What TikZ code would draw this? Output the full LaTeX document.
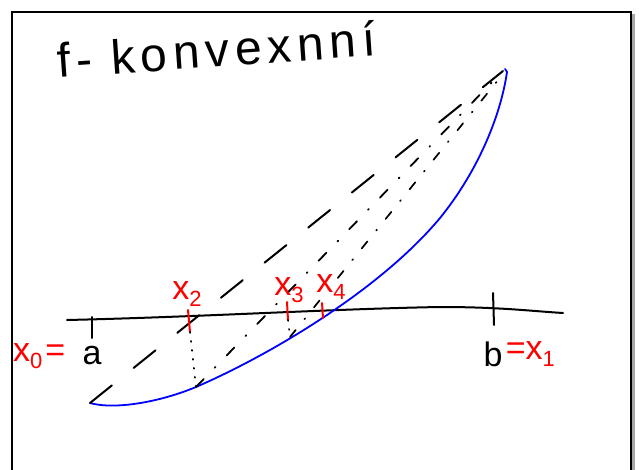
\documentclass[tikz,border=0pt]{standalone}
\usepackage{fontspec}
\setmainfont{Liberation Sans}
\newfontfamily\handfont[LetterSpace=12]{Liberation Sans}
\usetikzlibrary{positioning}
\newcommand{\hsub}[1]{\raisebox{-7pt}{\fontsize{22}{22}\selectfont #1}}

\begin{document}
\begin{tikzpicture}[
    x=1pt, y=-1pt,
    pen/.style={line width=2pt, line cap=round, line join=round},
    fcurve/.style={pen, draw=blue, line width=1.8pt},
    chordlong/.style={pen, dash pattern=on 28pt off 28pt},
    chorddot/.style={pen, line width=1.8pt, dash pattern=on 11pt off 16pt on 1pt off 16pt},
    chordfine/.style={pen, line width=1.7pt, dash pattern=on 9pt off 14pt on 1pt off 14pt},
    vdots/.style={pen, line width=1.6pt, dash pattern=on 1pt off 8pt},
    redtick/.style={pen, draw=red},
    lbl/.style={font=\fontsize{34}{34}\selectfont, inner sep=0pt},
    redlbl/.style={lbl, text=red}
]
    \useasboundingbox (0,0) rectangle (639,470);

    % Frame with shadow
    \fill[gray!70] (632,14) rectangle (635,470);
    \draw[line width=2.2pt] (12,470) -- (12,12) -- (631,12) -- (631,470);

    % Title
    \node[anchor=base west, rotate=4, inner sep=0pt, font=\handfont\fontsize{48}{48}\selectfont] (title) at (58,78) {f- konvexnní};

    % Axis and ticks
    \coordinate (axl) at (67,320);
    \coordinate (axr) at (563,313);
    \draw[pen] (axl) .. controls (200,317) and (330,309) .. (440,307)
        .. controls (500,307) and (530,311) .. (axr);
    \coordinate (ta1) at (92,317);
    \coordinate (ta2) at (92,338);
    \coordinate (tb1) at (493,293);
    \coordinate (tb2) at (494,325);
    \draw[pen] (ta1) -- (ta2);
    \draw[pen] (tb1) -- (tb2);

    % Points on f
    \coordinate (pa) at (90,403);
    \coordinate (pb) at (503,71);
    \coordinate (p2) at (196,387);
    \coordinate (p3) at (290,337);
    \coordinate (pm) at (440,218);
    \coordinate (ptop) at (507,72);

    % Graph of f
    \draw[fcurve] (pa) .. controls (115,410) and (160,402) .. (p2)
        .. controls (270,355) and (380,290) .. (pm)
        .. controls (475,175) and (500,120) .. (ptop) -- (505,69);

    % Chords
    \draw[chordlong] (pa) -- (pb);
    \draw[chorddot] (p2) -- (500,74);
    \draw[chordfine] (p3) -- (503,74);

    % Red points on axis
    \coordinate (r2a) at (188,310);
    \coordinate (r2b) at (190,332);
    \coordinate (r3a) at (287,302);
    \coordinate (r3b) at (288,320);
    \coordinate (r4a) at (322,303);
    \coordinate (r4b) at (323,318);
    \draw[redtick] (r2a) -- (r2b);
    \draw[redtick] (r3a) -- (r3b);
    \draw[redtick] (r4a) -- (r4b);
    \draw[vdots] (r2b) -- (p2);
    \draw[vdots] (r3b) -- (p3);

    % Labels
    \node[redlbl] (x2) at (187,294) {x\hsub{2}};
    \node[redlbl] (x3) at (289,290) {x\hsub{3}};
    \node[redlbl] (x4) at (331,287) {x\hsub{4}};
    \node[lbl] (alab) at (92,356) {a};
    \node[redlbl, left=17pt of alab] (x0) {x\hsub{0}\kern3pt=};
    \node[lbl] (blab) at (493,354) {b};
    \node[redlbl, right=3pt of blab] (x1) {=x\hsub{1}};
\end{tikzpicture}
\end{document}
